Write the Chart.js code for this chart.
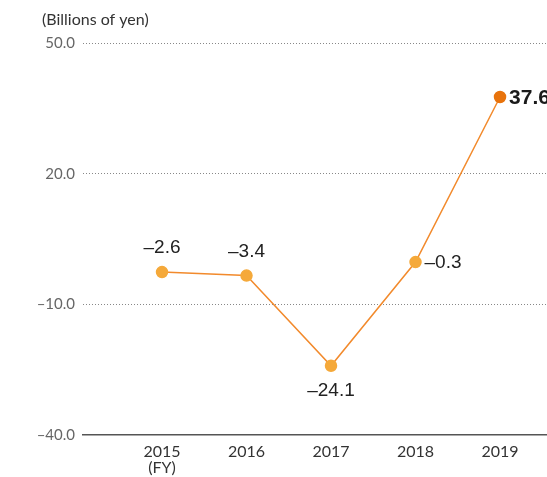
<!DOCTYPE html>
<html>
<head>
<meta charset="utf-8">
<script src="https://cdn.jsdelivr.net/npm/chart.js@4.4.1/dist/chart.umd.min.js"></script>
<style>
  html, body { margin: 0; padding: 0; background: #fff; overflow: hidden; }
  #wrap { width: 547px; height: 477px; }
</style>
</head>
<body>
<div id="wrap"><canvas id="chart"></canvas></div>
<script>
// fiscal years and values (billions of yen)
const years = [2015, 2016, 2017, 2018, 2019];
const values = [-2.6, -3.4, -24.1, -0.3, 37.6];
const yTicks = [50, 20, -10, -40];
const unitLabel = '(Billions of yen)';

// where each value label sits relative to its point
const labelPos = ['top', 'top', 'bottom', 'right', 'right'];

const fmt = v => (v < 0 ? '\u2013' : '') + Math.abs(v).toFixed(1);

const pointColors = values.map((v, i) => i === values.length - 1 ? '#E8730C' : '#F5A93A');

const valueLabels = {
  id: 'valueLabels',
  afterDatasetsDraw(chart) {
    const ctx = chart.ctx;
    const meta = chart.getDatasetMeta(0);
    ctx.save();
    meta.data.forEach((pt, i) => {
      const last = i === values.length - 1;
      ctx.font = last ? 'bold 21px "Liberation Sans", Arial, sans-serif'
                      : '19px "Liberation Sans", Arial, sans-serif';
      ctx.fillStyle = last ? '#1a1a1a' : '#222';
      const txt = fmt(values[i]);
      if (labelPos[i] === 'top') {
        ctx.textAlign = 'center'; ctx.textBaseline = 'middle';
        ctx.fillText(txt, pt.x, pt.y - 24);
      } else if (labelPos[i] === 'bottom') {
        ctx.textAlign = 'center'; ctx.textBaseline = 'middle';
        ctx.fillText(txt, pt.x, pt.y + 25);
      } else {
        ctx.textAlign = 'left'; ctx.textBaseline = 'middle';
        ctx.fillText(txt, pt.x + 9, pt.y + 1);
      }
    });
    // unit caption above the axis
    ctx.font = '16px Lato, sans-serif';
    ctx.fillStyle = '#333';
    ctx.textAlign = 'left';
    ctx.textBaseline = 'middle';
    ctx.fillText(unitLabel, 42, 20);
    ctx.restore();
  }
};

new Chart(document.getElementById('chart'), {
  type: 'line',
  data: {
    datasets: [{
      data: years.map((y, i) => ({ x: y, y: values[i] })),
      borderColor: '#F28A2C',
      borderWidth: 1.5,
      pointBackgroundColor: pointColors,
      pointBorderColor: pointColors,
      pointRadius: 5.5,
      pointHoverRadius: 5.5,
      tension: 0,
      clip: false
    }]
  },
  options: {
    responsive: true,
    maintainAspectRatio: false,
    animation: false,
    layout: { autoPadding: false, padding: { top: 43, right: 0, left: 0, bottom: 0 } },
    plugins: { legend: { display: false }, tooltip: { enabled: false } },
    scales: {
      x: {
        type: 'linear',
        min: 2014.065,
        max: 2019.556,
        afterBuildTicks: s => { s.ticks = years.map(v => ({ value: v })); },
        afterFit: s => { s.height = 42; s.paddingLeft = 0; s.paddingRight = 0; },
        grid: { display: false, drawTicks: false },
        border: { display: true, color: '#555', width: 1.5 },
        ticks: {
          padding: 8,
          color: '#333',
          font: { family: 'Lato, sans-serif', size: 16, lineHeight: 1.05 },
          maxRotation: 0,
          autoSkip: false,
          callback: v => v === years[0] ? [String(v), '(FY)'] : String(v)
        }
      },
      y: {
        min: -40,
        max: 50,
        afterBuildTicks: s => { s.ticks = yTicks.map(v => ({ value: v })); },
        afterFit: s => { s.width = 83; },
        grid: {
          drawTicks: false,
          color: ctx => ctx.tick && ctx.tick.value === -40 ? 'rgba(0,0,0,0)' : '#888',
          lineWidth: 1
        },
        border: { display: false, dash: [1, 2] },
        ticks: {
          padding: 8,
          color: '#666',
          font: { family: 'Lato, sans-serif', size: 15 },
          callback: v => fmt(v)
        }
      }
    }
  },
  plugins: [valueLabels]
});
</script>
</body>
</html>
